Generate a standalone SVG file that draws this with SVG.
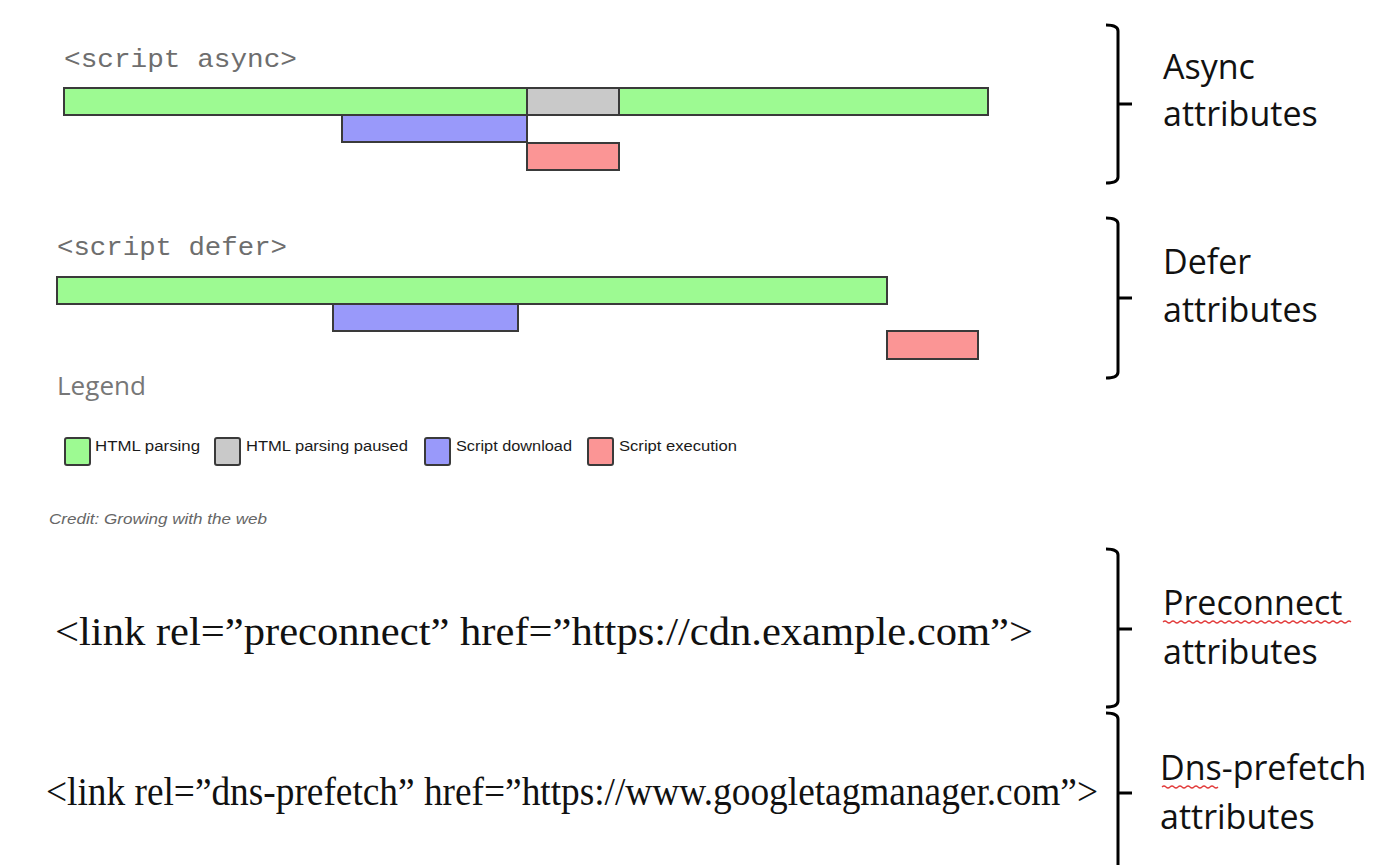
<svg xmlns="http://www.w3.org/2000/svg" width="1394" height="865" viewBox="0 0 1394 865">
<style>
.bar{stroke:#3a3a3a;stroke-width:2}
.g{fill:#9dfa92}.p{fill:#c9c9c9}.b{fill:#9999fa}.r{fill:#fb9595}
.mono{font-family:"Liberation Mono","Courier New",monospace;font-size:26px;fill:#6e6e6e}
.leg{font-family:"Liberation Sans",Arial,sans-serif;font-size:14px;fill:#1a1a1a}
.lab{font-family:"Open Sans","Noto Sans",sans-serif;font-size:34px;fill:#111}
.code{font-family:"Liberation Serif","Times New Roman",serif;font-size:40px;fill:#111}
.brace{fill:none;stroke:#000;stroke-width:3;stroke-linejoin:round}
.wavy{fill:none;stroke:#e23b3b;stroke-width:1.2}
</style>
<rect width="1394" height="865" fill="#fff"/>
<g id="async">
<text class="mono" x="64" y="67" textLength="233" lengthAdjust="spacingAndGlyphs">&lt;script async&gt;</text>
<rect class="bar g" x="64" y="88" width="924" height="27"/>
<rect class="bar p" x="527" y="88" width="92" height="27"/>
<rect class="bar b" x="342" y="115" width="185" height="27"/>
<rect class="bar r" x="527" y="143" width="92" height="27"/>
</g>
<g id="defer">
<text class="mono" x="57" y="255" textLength="230" lengthAdjust="spacingAndGlyphs">&lt;script defer&gt;</text>
<rect class="bar g" x="57" y="277" width="830" height="27"/>
<rect class="bar b" x="333" y="304" width="185" height="27"/>
<rect class="bar r" x="887" y="331" width="91" height="28"/>
</g>
<g id="legend">
<text x="57" y="395" font-family="'Open Sans','Noto Sans',sans-serif" font-size="25" fill="#777" textLength="89" lengthAdjust="spacingAndGlyphs">Legend</text>
<rect class="bar g" x="65" y="438" width="25" height="27" rx="2"/>
<text class="leg" x="95" y="451" textLength="105" lengthAdjust="spacingAndGlyphs">HTML parsing</text>
<rect class="bar p" x="215" y="438" width="25" height="27" rx="2"/>
<text class="leg" x="246" y="451" textLength="162" lengthAdjust="spacingAndGlyphs">HTML parsing paused</text>
<rect class="bar b" x="425" y="438" width="25" height="27" rx="2"/>
<text class="leg" x="456" y="451" textLength="116" lengthAdjust="spacingAndGlyphs">Script download</text>
<rect class="bar r" x="588" y="438" width="25" height="27" rx="2"/>
<text class="leg" x="619" y="451" textLength="118" lengthAdjust="spacingAndGlyphs">Script execution</text>
<text x="49" y="524" font-family="'Liberation Sans',Arial,sans-serif" font-size="14" font-style="italic" fill="#666" textLength="218" lengthAdjust="spacingAndGlyphs">Credit: Growing with the web</text>
</g>
<g id="preconnect-code">
<text class="code" x="55" y="645" textLength="978" lengthAdjust="spacingAndGlyphs">&lt;link rel=”preconnect” href=”https://cdn.example.com”&gt;</text>
</g>
<g id="dns-code">
<text class="code" x="46" y="805" textLength="1052" lengthAdjust="spacingAndGlyphs">&lt;link rel=”dns-prefetch” href=”https://www.googletagmanager.com”&gt;</text>
</g>
<g id="connectors">
<path class="brace" d="M1106,25 Q1118,25 1118,31 V177 Q1118,183 1106,183 M1118,104 H1132"/>
<path class="brace" d="M1106,218 Q1118,218 1118,224 V372 Q1118,378 1106,378 M1118,298 H1132"/>
<path class="brace" d="M1106,549 Q1118,549 1118,555 V701 Q1118,707 1106,707 M1118,629 H1132"/>
<path class="brace" d="M1106,713 Q1118,713 1118,719 V865 M1118,793 H1132"/>
</g>
<g id="labels">
<text class="lab" x="1163" y="79">Async</text>
<text class="lab" x="1163" y="126">attributes</text>
<text class="lab" x="1163" y="274">Defer</text>
<text class="lab" x="1163" y="322">attributes</text>
<text class="lab" x="1163" y="615">Preconnect</text>
<text class="lab" x="1163" y="664">attributes</text>
<path class="wavy" d="M1163,622 q2,-2 4,0 t4,0 t4,0 t4,0 t4,0 t4,0 t4,0 t4,0 t4,0 t4,0 t4,0 t4,0 t4,0 t4,0 t4,0 t4,0 t4,0 t4,0 t4,0 t4,0 t4,0 t4,0 t4,0 t4,0 t4,0 t4,0 t4,0 t4,0 t4,0 t4,0 t4,0 t4,0 t4,0 t4,0 t4,0 t4,0 t4,0 t4,0 t4,0 t4,0 t4,0 t4,0 t4,0 t4,0 t4,0 t4,0 t4,0"/>
<text class="lab" x="1160" y="780">Dns-prefetch</text>
<text class="lab" x="1160" y="829">attributes</text>
<path class="wavy" d="M1162,787 q2,-2 4,0 t4,0 t4,0 t4,0 t4,0 t4,0 t4,0 t4,0 t4,0 t4,0 t4,0 t4,0 t4,0 t4,0"/>
</g>
</svg>
